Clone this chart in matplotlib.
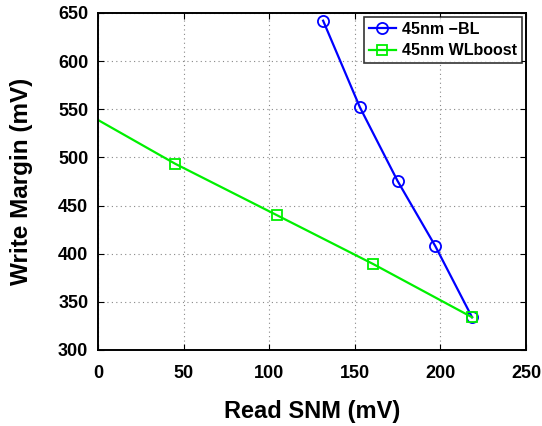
import matplotlib
matplotlib.use("Agg")
import matplotlib.pyplot as plt

plt.rcParams['font.family'] = ['Liberation Sans', 'DejaVu Sans']
plt.rcParams['font.weight'] = 'bold'

# Write margin vs read SNM for the two write-assist schemes
neg_bl_snm = [131.5, 153, 175, 197, 218.5]
neg_bl_wm = [642, 552, 475.5, 408, 334]

wlboost_snm = [-12, 45, 104.5, 160.5, 218.5]
wlboost_wm = [551, 493.5, 440, 389.5, 334]

x_ticks = [0, 50, 100, 150, 200, 250]
y_ticks = [300, 350, 400, 450, 500, 550, 600, 650]

fig = plt.figure(figsize=(5.42, 4.26), dpi=100)
ax = fig.add_axes([98 / 542, 1 - 350 / 426, 428 / 542, 337 / 426])

ax.plot(neg_bl_snm, neg_bl_wm, color='#0000ff', marker='o', markersize=8,
        markerfacecolor='none', markeredgewidth=1.3, linewidth=1.6, label='45nm \u2212BL')
ax.plot(wlboost_snm, wlboost_wm, color='#00f000', marker='s', markersize=7,
        markerfacecolor='none', markeredgewidth=1.3, linewidth=1.6, label='45nm WLboost')

ax.set_xlim(0, 250)
ax.set_ylim(300, 650)
ax.set_xticks(x_ticks)
ax.set_yticks(y_ticks)
ax.tick_params(direction='in', top=True, right=True, labelsize=13, length=4, width=0.8)
for lbl in ax.get_xticklabels() + ax.get_yticklabels():
    lbl.set_fontweight('bold')
ax.tick_params(axis='x', pad=11)
ax.tick_params(axis='y', pad=7)

ax.grid(True, linestyle=(0, (1, 3)), color='#888888', linewidth=0.8)
for sp in ax.spines.values():
    sp.set_linewidth(1.4)

ax.set_xlabel('Read SNM (mV)', fontsize=17, fontweight='bold')
ax.set_ylabel('Write Margin (mV)', fontsize=17.5, fontweight='bold')
# pin the axis titles where they sit on the page
ax.xaxis.set_label_coords(0.5, -0.148)
ax.yaxis.set_label_coords(-0.152, 0.5)

leg = ax.legend(loc='upper right', fontsize=11.5, frameon=True, fancybox=False,
                edgecolor='black', borderaxespad=0.25, handlelength=1.7,
                borderpad=0.3, labelspacing=0.4, handletextpad=0.4)
leg.get_frame().set_linewidth(1.2)
for t in leg.get_texts():
    t.set_fontweight('bold')

fig.savefig('out.png', dpi=100)
